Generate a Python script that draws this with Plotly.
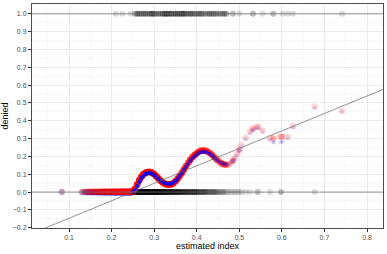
import numpy as np
import plotly.graph_objects as go

# estimated index positions (binned)
index_x = [0.083, 0.13, 0.135, 0.14, 0.145, 0.15, 0.155, 0.16, 0.165, 0.17, 0.175, 0.18, 0.185, 0.19, 0.195,
           0.20, 0.205, 0.21, 0.215, 0.22, 0.225, 0.23, 0.235, 0.24, 0.245, 0.25, 0.255, 0.26, 0.265, 0.27,
           0.275, 0.28, 0.285, 0.29, 0.295, 0.30, 0.305, 0.31, 0.315, 0.32, 0.325, 0.33, 0.335, 0.34, 0.345,
           0.35, 0.355, 0.36, 0.365, 0.37, 0.375, 0.38, 0.385, 0.39, 0.395, 0.40, 0.405, 0.41, 0.415, 0.42,
           0.425, 0.43, 0.435, 0.44, 0.445, 0.45, 0.455, 0.46, 0.465, 0.47, 0.475, 0.48, 0.485, 0.49, 0.495,
           0.50, 0.505, 0.515, 0.525, 0.532, 0.541, 0.545, 0.555, 0.572, 0.58, 0.598, 0.602, 0.614, 0.626,
           0.677, 0.741]
# number of observations with denied = 0 at each index position
n_denied0 = [1, 1, 1, 2, 2, 2, 3, 3, 3, 4, 4, 5, 5, 6, 6,
             7, 7, 8, 8, 9, 9, 10, 10, 11, 11, 12, 12, 12, 12, 12,
             12, 12, 11, 11, 11, 10, 10, 10, 9, 9, 9, 8, 8, 8, 7,
             7, 7, 6, 6, 6, 5, 5, 5, 5, 5, 5, 4, 4, 4, 4,
             3, 3, 3, 3, 3, 2, 2, 2, 2, 1, 1, 1, 1, 1, 1,
             1, 1, 1, 1, 0, 1, 1, 0, 1, 0, 2, 0, 0, 0,
             1, 0]
# number of observations with denied = 1 at each index position
n_denied1 = [0, 0, 0, 0, 0, 0, 0, 0, 0, 0, 0, 0, 0, 0, 0,
             0, 0, 1, 0, 0, 1, 0, 0, 0, 1, 0, 2, 3, 3, 2,
             3, 3, 2, 3, 4, 3, 2, 3, 2, 3, 4, 4, 3, 4, 2,
             4, 3, 3, 4, 4, 3, 2, 4, 2, 3, 2, 3, 3, 2, 2,
             2, 3, 2, 3, 2, 2, 2, 2, 3, 2, 0, 0, 2, 0, 0,
             1, 0, 0, 0, 2, 0, 0, 1, 0, 2, 0, 1, 1, 1,
             0, 1]
# fitted values (two estimators)
fit_red = [0.002, 0.002, 0.002, 0.002, 0.002, 0.002, 0.002, 0.002, 0.002, 0.002, 0.002, 0.002, 0.002, 0.002, 0.002,
           0.002, 0.002, 0.002, 0.002, 0.002, 0.002, 0.002, 0.002, 0.002, 0.002, 0.004, 0.018, 0.042, 0.066, 0.086,
           0.100, 0.108, 0.112, 0.112, 0.108, 0.100, 0.088, 0.076, 0.064, 0.054, 0.047, 0.043, 0.042, 0.044, 0.050,
           0.060, 0.074, 0.090, 0.108, 0.127, 0.146, 0.164, 0.181, 0.196, 0.208, 0.218, 0.226, 0.231, 0.233, 0.232,
           0.228, 0.220, 0.210, 0.198, 0.186, 0.175, 0.166, 0.159, 0.154, 0.152, 0.155, 0.163, 0.176, 0.193, 0.214,
           0.238, 0.262, 0.305, 0.338, 0.355, 0.366, 0.365, 0.345, 0.305, 0.300, 0.310, 0.310, 0.310, 0.370,
           0.480, 0.455]
fit_blue = [0.000, -0.003, -0.003, -0.003, -0.003, -0.003, -0.003, -0.003, -0.003, -0.003, -0.003, -0.003, -0.003, -0.003, -0.003,
            -0.003, -0.003, -0.003, -0.003, -0.003, -0.003, -0.003, -0.003, -0.003, -0.003, 0.001, 0.012, 0.034, 0.057, 0.077,
            0.092, 0.101, 0.106, 0.107, 0.103, 0.096, 0.086, 0.075, 0.064, 0.056, 0.050, 0.047, 0.046, 0.048, 0.053,
            0.062, 0.075, 0.090, 0.106, 0.124, 0.142, 0.159, 0.175, 0.189, 0.201, 0.211, 0.219, 0.224, 0.226, 0.225,
            0.222, 0.215, 0.206, 0.196, 0.185, 0.175, 0.167, 0.161, 0.157, 0.155, 0.158, 0.165, 0.176, 0.192, 0.211,
            0.233, 0.256, 0.298, 0.331, 0.348, 0.359, 0.358, 0.337, 0.292, 0.280, 0.280, 0.285, 0.300, 0.362,
            0.472, 0.450]
# linear fit line
lin_intercept = -0.245
lin_slope = 0.98

x_range = [0.013, 0.8376]
y_range = [-0.2017, 1.055]
x_ticks = [0.1, 0.2, 0.3, 0.4, 0.5, 0.6, 0.7, 0.8]
y_ticks = [-0.2, -0.1, 0.0, 0.1, 0.2, 0.3, 0.4, 0.5, 0.6, 0.7, 0.8, 0.9, 1.0]

ix = np.array(index_x)
n0 = np.array(n_denied0)
n1 = np.array(n_denied1)
ntot = n0 + n1

obs_x = np.concatenate([np.repeat(ix, n0), np.repeat(ix, n1)])
obs_y = np.concatenate([np.zeros(n0.sum()), np.ones(n1.sum())])
fit_x = np.repeat(ix, ntot)
red_y = np.repeat(np.array(fit_red), ntot)
blue_y = np.repeat(np.array(fit_blue), ntot)
flat = fit_x < 0.25

fig = go.Figure()
fig.add_trace(go.Scatter(x=obs_x, y=obs_y, mode="markers",
                         marker=dict(size=6, color="rgba(0,0,0,0.14)", line=dict(width=0)),
                         hoverinfo="skip"))
# flat part: blue under red
fig.add_trace(go.Scatter(x=fit_x[flat], y=blue_y[flat], mode="markers",
                         marker=dict(size=6, color="rgba(0,0,255,0.16)", line=dict(width=0)),
                         hoverinfo="skip"))
fig.add_trace(go.Scatter(x=fit_x, y=red_y, mode="markers",
                         marker=dict(size=6.5, color="rgba(255,0,0,0.16)", line=dict(width=0)),
                         hoverinfo="skip"))
# wavy part: blue core over red
fig.add_trace(go.Scatter(x=fit_x[~flat], y=blue_y[~flat], mode="markers",
                         marker=dict(size=4, color="rgba(0,0,255,0.12)", line=dict(width=0)),
                         hoverinfo="skip"))
line_x = np.array(x_range)
fig.add_trace(go.Scatter(x=line_x, y=lin_intercept + lin_slope * line_x, mode="lines",
                         line=dict(color="#666666", width=0.7), hoverinfo="skip"))
fig.add_hline(y=0, line=dict(color="#777777", width=0.8))
fig.add_hline(y=1, line=dict(color="#777777", width=0.8))

tickfont = dict(family="Liberation Sans", size=7, color="#4D4D4D")
titlefont = dict(family="Liberation Sans", size=9, color="black")
minor = dict(dtick=0.05, tick0=0.05, showgrid=True, gridcolor="#F4F4F4", gridwidth=0.6, ticks="")

fig.update_layout(
    width=387, height=254,
    margin=dict(l=32, r=4, t=4, b=26, autoexpand=False),
    paper_bgcolor="white", plot_bgcolor="white",
    showlegend=False,
    xaxis=dict(range=x_range, tickvals=x_ticks, ticktext=[f"{v:.1f}" for v in x_ticks],
               automargin=False, minor=minor,
               showgrid=True, gridcolor="#EBEBEB", gridwidth=1,
               showline=True, linecolor="#4D4D4D", linewidth=1, mirror=True,
               ticks="outside", ticklen=3, tickwidth=1, tickcolor="#333333",
               tickfont=tickfont, zeroline=False,
               title=dict(text="estimated index", standoff=1, font=titlefont)),
    yaxis=dict(range=y_range, tickvals=y_ticks,
               ticktext=[f"{v:.1f}".replace("-", "\u2212") for v in y_ticks],
               automargin=False, minor=minor,
               showgrid=True, gridcolor="#EBEBEB", gridwidth=1,
               showline=True, linecolor="#4D4D4D", linewidth=1, mirror=True,
               ticks="outside", ticklen=3, tickwidth=1, tickcolor="#333333",
               tickfont=tickfont, zeroline=False,
               title=dict(text="denied", standoff=2, font=titlefont)),
)

fig.write_html("out.html", config={"displayModeBar": False, "staticPlot": True},
               post_script="document.body.style.margin='0';document.body.style.overflow='hidden';")
